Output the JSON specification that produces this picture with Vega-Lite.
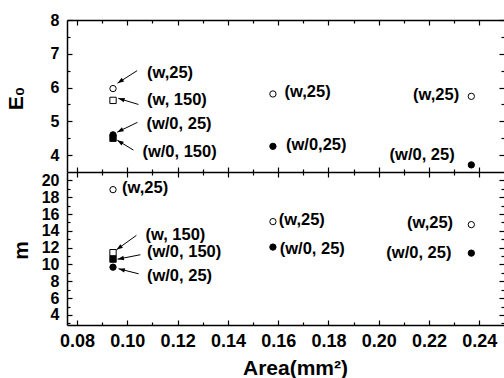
{
  "$schema": "https://vega.github.io/schema/vega-lite/v6.json",
  "background": "white",
  "autosize": {"type": "none"},
  "width": 437,
  "height": 305,
  "padding": {"left": 67, "top": 20, "right": 0, "bottom": 53},
  "config": {
    "view": {"stroke": null},
    "font": "Liberation Sans",
    "axis": {
      "grid": false,
      "domainColor": "black",
      "domainWidth": 1.5,
      "tickColor": "black",
      "tickWidth": 1.2,
      "labelColor": "black",
      "labelFont": "Liberation Sans",
      "labelFontWeight": "bold",
      "titleColor": "black",
      "titleFont": "Liberation Sans",
      "titleFontWeight": "bold",
      "minExtent": 0
    }
  },
  "datasets": {
    "e0pts": [
      {"area": 0.0943, "value": 5.97, "series": "w,25"},
      {"area": 0.0943, "value": 5.62, "series": "w,150"},
      {"area": 0.0943, "value": 4.5, "series": "w/0,150"},
      {"area": 0.0943, "value": 4.6, "series": "w/0,25"},
      {"area": 0.1579, "value": 5.81, "series": "w,25"},
      {"area": 0.1579, "value": 4.26, "series": "w/0,25"},
      {"area": 0.2368, "value": 5.74, "series": "w,25"},
      {"area": 0.2368, "value": 3.71, "series": "w/0,25"}
    ],
    "mpts": [
      {"area": 0.0943, "value": 18.9, "series": "w,25"},
      {"area": 0.0943, "value": 11.4, "series": "w,150"},
      {"area": 0.0943, "value": 10.64, "series": "w/0,150"},
      {"area": 0.0943, "value": 9.68, "series": "w/0,25"},
      {"area": 0.1579, "value": 15.1, "series": "w,25"},
      {"area": 0.1579, "value": 12.07, "series": "w/0,25"},
      {"area": 0.2368, "value": 14.74, "series": "w,25"},
      {"area": 0.2368, "value": 11.35, "series": "w/0,25"}
    ],
    "e0labels": [
      {"lx": 0.1078, "ly": 6.42, "label": "(w,25)"},
      {"lx": 0.1078, "ly": 5.62, "label": "(w, 150)"},
      {"lx": 0.1076, "ly": 4.93, "label": "(w/0, 25)"},
      {"lx": 0.106, "ly": 4.1, "label": "(w/0, 150)"},
      {"lx": 0.1625, "ly": 5.88, "label": "(w,25)"},
      {"lx": 0.1631, "ly": 4.31, "label": "(w/0,25)"},
      {"lx": 0.2136, "ly": 5.79, "label": "(w,25)"},
      {"lx": 0.2043, "ly": 4.0, "label": "(w/0, 25)"}
    ],
    "mlabels": [
      {"lx": 0.0979, "ly": 19.04, "label": "(w,25)"},
      {"lx": 0.1072, "ly": 13.52, "label": "(w, 150)"},
      {"lx": 0.1078, "ly": 11.54, "label": "(w/0, 150)"},
      {"lx": 0.1078, "ly": 8.61, "label": "(w/0, 25)"},
      {"lx": 0.1602, "ly": 15.34, "label": "(w,25)"},
      {"lx": 0.1606, "ly": 11.88, "label": "(w/0, 25)"},
      {"lx": 0.2112, "ly": 14.93, "label": "(w,25)"},
      {"lx": 0.203, "ly": 11.4, "label": "(w/0, 25)"}
    ],
    "e0arrows": [
      {"x1": 0.1039, "y1": 6.5, "x2": 0.0961, "y2": 6.13, "angle": 237},
      {"x1": 0.1044, "y1": 5.5, "x2": 0.0964, "y2": 5.68, "angle": 287},
      {"x1": 0.104, "y1": 4.97, "x2": 0.096, "y2": 4.68, "angle": 243},
      {"x1": 0.1024, "y1": 4.15, "x2": 0.096, "y2": 4.44, "angle": 302}
    ],
    "marrows": [
      {"x1": 0.1036, "y1": 13.46, "x2": 0.0957, "y2": 11.76, "angle": 234},
      {"x1": 0.1052, "y1": 11.16, "x2": 0.0961, "y2": 10.63, "angle": 259},
      {"x1": 0.1045, "y1": 8.89, "x2": 0.0965, "y2": 9.49, "angle": 284}
    ]
  },
  "resolve": {"scale": {"y": "independent"}, "axis": {"x": "independent", "y": "independent"}},
  "layer": [
    {
      "data": {"name": "e0pts"},
      "mark": {"type": "point", "filled": true, "stroke": "black", "strokeWidth": 1, "opacity": 1, "size": 40},
      "encoding": {
        "x": {"field": "area", "type": "quantitative", "scale": {"domain": [0.076, 0.2498], "nice": false, "zero": false},
          "axis": {"orient": "bottom", "values": [0.08, 0.1, 0.12, 0.14, 0.16, 0.18, 0.2, 0.22, 0.24], "format": ".2f", "tickSize": -5, "labelFontSize": 18, "labelPadding": 12, "title": "Area(mm²)", "titleFontSize": 21, "titlePadding": 7, "titleX": 228}},
        "y": {"field": "value", "type": "quantitative", "scale": {"domain": [3.5, 8], "range": [152, 0], "nice": false, "zero": false},
          "axis": {"orient": "left", "values": [4, 5, 6, 7, 8], "format": "d", "tickSize": -5, "labelFontSize": 16, "labelPadding": 13, "labelOverlap": false, "title": "E₀", "titleFontSize": 21, "titlePadding": 24, "titleY": 78}},
        "shape": {"field": "series", "type": "nominal", "scale": {"domain": ["w,25", "w,150", "w/0,25", "w/0,150"], "range": ["circle", "square", "circle", "square"]}, "legend": null},
        "fill": {"field": "series", "type": "nominal", "scale": {"domain": ["w,25", "w,150", "w/0,25", "w/0,150"], "range": ["white", "white", "black", "black"]}, "legend": null}
      }
    },
    {
      "data": {"name": "mpts"},
      "mark": {"type": "point", "filled": true, "stroke": "black", "strokeWidth": 1, "opacity": 1, "size": 40},
      "encoding": {
        "x": {"field": "area", "type": "quantitative", "scale": {"domain": [0.076, 0.2498], "nice": false, "zero": false},
          "axis": {"orient": "top", "values": [0.08, 0.1, 0.12, 0.14, 0.16, 0.18, 0.2, 0.22, 0.24], "tickSize": -5, "labels": false, "title": null}},
        "y": {"field": "value", "type": "quantitative", "scale": {"domain": [2.8, 21], "range": [305, 152], "nice": false, "zero": false},
          "axis": {"orient": "left", "values": [4, 6, 8, 10, 12, 14, 16, 18, 20], "format": "d", "tickSize": -5, "labelFontSize": 16, "labelPadding": 13, "labelOverlap": false, "title": "m", "titleFontSize": 21, "titlePadding": 10, "titleY": 230}},
        "shape": {"field": "series", "type": "nominal", "scale": {"domain": ["w,25", "w,150", "w/0,25", "w/0,150"], "range": ["circle", "square", "circle", "square"]}, "legend": null},
        "fill": {"field": "series", "type": "nominal", "scale": {"domain": ["w,25", "w,150", "w/0,25", "w/0,150"], "range": ["white", "white", "black", "black"]}, "legend": null}
      }
    },
    {
      "data": {"name": "e0pts"},
      "mark": {"type": "point", "opacity": 0},
      "encoding": {
        "x": {"field": "area", "type": "quantitative", "scale": {"domain": [0.076, 0.2498], "nice": false, "zero": false},
          "axis": {"orient": "bottom", "values": [0.09, 0.11, 0.13, 0.15, 0.17, 0.19, 0.21, 0.23], "tickSize": -3, "labels": false, "domain": false, "title": null}},
        "y": {"field": "value", "type": "quantitative", "scale": {"domain": [3.5, 8], "range": [152, 0], "nice": false, "zero": false},
          "axis": {"orient": "left", "values": [4.5, 5.5, 6.5, 7.5], "tickSize": -3, "labels": false, "domain": false, "title": null}}
      }
    },
    {
      "data": {"name": "mpts"},
      "mark": {"type": "point", "opacity": 0},
      "encoding": {
        "x": {"field": "area", "type": "quantitative", "scale": {"domain": [0.076, 0.2498], "nice": false, "zero": false},
          "axis": {"orient": "top", "values": [0.09, 0.11, 0.13, 0.15, 0.17, 0.19, 0.21, 0.23], "tickSize": -3, "labels": false, "domain": false, "title": null}},
        "y": {"field": "value", "type": "quantitative", "scale": {"domain": [2.8, 21], "range": [305, 152], "nice": false, "zero": false},
          "axis": {"orient": "left", "values": [3, 5, 7, 9, 11, 13, 15, 17, 19], "tickSize": -3, "labels": false, "domain": false, "title": null}}
      }
    },
    {
      "data": {"name": "e0pts"},
      "mark": {"type": "point", "opacity": 0},
      "encoding": {
        "x": {"field": "area", "type": "quantitative", "scale": {"domain": [0.076, 0.2498], "nice": false, "zero": false},
          "axis": {"orient": "top", "offset": -157, "values": [0.08, 0.1, 0.12, 0.14, 0.16, 0.18, 0.2, 0.22, 0.24], "tickSize": 10, "labels": false, "domain": false, "title": null}},
        "y": {"field": "value", "type": "quantitative", "scale": {"domain": [3.5, 8], "range": [152, 0], "nice": false, "zero": false},
          "axis": {"orient": "right", "values": [4, 5, 6, 7, 8], "tickSize": -5, "labels": false, "domain": false, "title": null}}
      }
    },
    {
      "data": {"name": "mpts"},
      "mark": {"type": "point", "opacity": 0},
      "encoding": {
        "x": {"field": "area", "type": "quantitative", "scale": {"domain": [0.076, 0.2498], "nice": false, "zero": false},
          "axis": {"orient": "top", "offset": -155, "values": [0.09, 0.11, 0.13, 0.15, 0.17, 0.19, 0.21, 0.23], "tickSize": 6, "labels": false, "domain": false, "title": null}},
        "y": {"field": "value", "type": "quantitative", "scale": {"domain": [2.8, 21], "range": [305, 152], "nice": false, "zero": false},
          "axis": {"orient": "right", "values": [4, 6, 8, 10, 12, 14, 16, 18, 20], "tickSize": -5, "labels": false, "domain": false, "title": null}}
      }
    },
    {
      "data": {"name": "e0pts"},
      "mark": {"type": "point", "opacity": 0},
      "encoding": {
        "x": {"field": "area", "type": "quantitative", "scale": {"domain": [0.076, 0.2498], "nice": false, "zero": false},
          "axis": {"orient": "top", "offset": -152, "ticks": false, "labels": false, "domain": true, "title": null}},
        "y": {"field": "value", "type": "quantitative", "scale": {"domain": [3.5, 8], "range": [152, 0], "nice": false, "zero": false},
          "axis": {"orient": "right", "values": [4.5, 5.5, 6.5, 7.5], "tickSize": -3, "labels": false, "domain": false, "title": null}}
      }
    },
    {
      "data": {"name": "mpts"},
      "mark": {"type": "point", "opacity": 0},
      "encoding": {
        "x": {"field": "area", "type": "quantitative", "scale": {"domain": [0.076, 0.2498], "nice": false, "zero": false}, "axis": null},
        "y": {"field": "value", "type": "quantitative", "scale": {"domain": [2.8, 21], "range": [305, 152], "nice": false, "zero": false},
          "axis": {"orient": "right", "values": [3, 5, 7, 9, 11, 13, 15, 17, 19], "tickSize": -3, "labels": false, "domain": false, "title": null}}
      }
    },
    {
      "data": {"name": "e0labels"},
      "mark": {"type": "text", "align": "left", "baseline": "middle", "fontSize": 16.5, "fontWeight": "bold", "font": "Liberation Sans", "color": "black"},
      "encoding": {
        "x": {"field": "lx", "type": "quantitative", "scale": {"domain": [0.076, 0.2498], "nice": false, "zero": false}, "axis": null},
        "y": {"field": "ly", "type": "quantitative", "scale": {"domain": [3.5, 8], "range": [152, 0], "nice": false, "zero": false}, "axis": null},
        "text": {"field": "label"}
      }
    },
    {
      "data": {"name": "e0arrows"},
      "mark": {"type": "rule", "color": "black", "strokeWidth": 1},
      "encoding": {
        "x": {"field": "x1", "type": "quantitative", "scale": {"domain": [0.076, 0.2498], "nice": false, "zero": false}, "axis": null},
        "y": {"field": "y1", "type": "quantitative", "scale": {"domain": [3.5, 8], "range": [152, 0], "nice": false, "zero": false}, "axis": null},
        "x2": {"field": "x2"},
        "y2": {"field": "y2"}
      }
    },
    {
      "data": {"name": "e0arrows"},
      "mark": {"type": "point", "shape": "M0,0L0.35,1L-0.35,1Z", "filled": true, "color": "black", "opacity": 1, "size": 160},
      "encoding": {
        "x": {"field": "x2", "type": "quantitative", "scale": {"domain": [0.076, 0.2498], "nice": false, "zero": false}, "axis": null},
        "y": {"field": "y2", "type": "quantitative", "scale": {"domain": [3.5, 8], "range": [152, 0], "nice": false, "zero": false}, "axis": null},
        "angle": {"field": "angle", "type": "quantitative", "scale": null}
      }
    },
    {
      "data": {"name": "mlabels"},
      "mark": {"type": "text", "align": "left", "baseline": "middle", "fontSize": 16.5, "fontWeight": "bold", "font": "Liberation Sans", "color": "black"},
      "encoding": {
        "x": {"field": "lx", "type": "quantitative", "scale": {"domain": [0.076, 0.2498], "nice": false, "zero": false}, "axis": null},
        "y": {"field": "ly", "type": "quantitative", "scale": {"domain": [2.8, 21], "range": [305, 152], "nice": false, "zero": false}, "axis": null},
        "text": {"field": "label"}
      }
    },
    {
      "data": {"name": "marrows"},
      "mark": {"type": "rule", "color": "black", "strokeWidth": 1},
      "encoding": {
        "x": {"field": "x1", "type": "quantitative", "scale": {"domain": [0.076, 0.2498], "nice": false, "zero": false}, "axis": null},
        "y": {"field": "y1", "type": "quantitative", "scale": {"domain": [2.8, 21], "range": [305, 152], "nice": false, "zero": false}, "axis": null},
        "x2": {"field": "x2"},
        "y2": {"field": "y2"}
      }
    },
    {
      "data": {"name": "marrows"},
      "mark": {"type": "point", "shape": "M0,0L0.35,1L-0.35,1Z", "filled": true, "color": "black", "opacity": 1, "size": 160},
      "encoding": {
        "x": {"field": "x2", "type": "quantitative", "scale": {"domain": [0.076, 0.2498], "nice": false, "zero": false}, "axis": null},
        "y": {"field": "y2", "type": "quantitative", "scale": {"domain": [2.8, 21], "range": [305, 152], "nice": false, "zero": false}, "axis": null},
        "angle": {"field": "angle", "type": "quantitative", "scale": null}
      }
    }
  ]
}
